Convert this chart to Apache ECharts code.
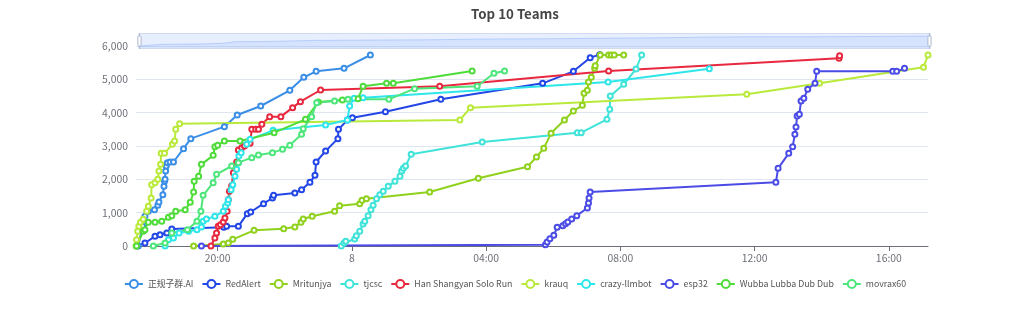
<!DOCTYPE html>
<html>
<head>
<meta charset="utf-8">
<script src="https://cdn.jsdelivr.net/npm/echarts@6/dist/echarts.min.js"></script>
<style>html,body{margin:0;padding:0;background:#fff}#c{width:1030px;height:318px}</style>
</head>
<body>
<div id="c"></div>
<script>
const DATE_PREFIX = '2023-10-';
const teamNames = ['正规子群.AI','RedAlert','Mritunjya','tjcsc','Han Shangyan Solo Run','krauq','crazy-llmbot','esp32','Wubba Lubba Dub Dub','movrax60'];
const teamColors = ['#3a8ee6','#2346e6','#8fd11c','#3fe3d8','#e8283f','#b9ea3b','#2ee6ea','#4b4be6','#4fdc3a','#4de67b'];

const zhengguiData = [['07 17:38',0],['07 17:46',590],['07 17:50',890],['07 17:56',1040],['07 18:07',1090],['07 18:13',1220],['07 18:15',1320],['07 18:22',1540],['07 18:24',1790],['07 18:25',1940],['07 18:26',2000],['07 18:27',2250],['07 18:28',2400],['07 18:30',2500],['07 18:35',2520],['07 18:41',2520],['07 18:59',2920],['07 19:12',3220],['07 20:12',3580],['07 20:35',3930],['07 21:17',4200],['07 22:09',4670],['07 22:34',5060],['07 22:56',5240],['07 23:46',5330],['08 00:33',5730]];
const redAlertData = [['07 17:35',0],['07 17:50',90],['07 18:08',290],['07 18:17',340],['07 18:29',390],['07 18:38',510],['07 20:11',560],['07 20:16',590],['07 20:37',590],['07 20:53',970],['07 20:59',1020],['07 21:22',1270],['07 21:38',1440],['07 21:40',1520],['07 22:18',1590],['07 22:30',1690],['07 22:45',1910],['07 22:54',2120],['07 22:56',2520],['07 23:13',2850],['07 23:35',3220],['07 23:36',3500],['07 23:52',3780],['08 00:01',3850],['08 01:00',4030],['08 02:39',4400],['08 05:41',4880],['08 06:36',5240],['08 07:06',5650],['08 07:23',5740]];
const mritunjyaData = [['07 19:17',0],['07 20:10',60],['07 20:19',90],['07 20:27',200],['07 21:05',470],['07 21:58',520],['07 22:18',570],['07 22:29',710],['07 22:33',810],['07 22:49',890],['07 23:29',1040],['07 23:38',1210],['08 00:14',1270],['08 00:18',1370],['08 00:26',1420],['08 02:19',1620],['08 03:46',2030],['08 05:14',2380],['08 05:30',2670],['08 05:43',2930],['08 05:56',3380],['08 06:20',3780],['08 06:36',4050],['08 06:52',4220],['08 06:55',4580],['08 07:01',4670],['08 07:03',4920],['08 07:08',5060],['08 07:14',5330],['08 07:15',5410],['08 07:24',5730],['08 07:39',5730],['08 07:44',5730],['08 07:49',5730],['08 08:06',5730]];
const tjcscData = [['07 23:41',0],['07 23:46',90],['07 23:49',140],['08 00:05',210],['08 00:08',310],['08 00:14',440],['08 00:20',660],['08 00:23',740],['08 00:29',910],['08 00:34',1090],['08 00:38',1220],['08 00:44',1420],['08 00:50',1540],['08 00:56',1640],['08 01:05',1790],['08 01:17',1940],['08 01:26',2090],['08 01:29',2250],['08 01:32',2330],['08 01:36',2400],['08 01:46',2750],['08 03:53',3120],['08 06:43',3400],['08 06:50',3400],['08 07:36',3800],['08 07:41',4100],['08 07:42',4500],['08 08:06',4850],['08 08:28',5310],['08 08:38',5730]];
const hanData = [['07 19:48',0],['07 19:55',240],['07 19:58',390],['07 20:01',590],['07 20:05',640],['07 20:10',720],['07 20:13',840],['07 20:17',1040],['07 20:19',1390],['07 20:21',1640],['07 20:25',1810],['07 20:28',2200],['07 20:34',2520],['07 20:37',2880],['07 20:43',2950],['07 20:48',3000],['07 20:58',3080],['07 21:01',3500],['07 21:08',3500],['07 21:13',3500],['07 21:19',3650],['07 21:33',3880],['07 21:53',3880],['07 22:14',4150],['07 22:28',4330],['07 23:04',4680],['08 02:37',4790],['08 07:39',5250],['08 14:31',5630],['08 14:32',5710]];
const krauqData = [['07 17:34',0],['07 17:35',190],['07 17:37',440],['07 17:39',590],['07 17:42',710],['07 17:47',800],['07 17:53',1040],['07 17:56',1190],['07 18:01',1440],['07 18:02',1840],['07 18:08',1900],['07 18:13',2000],['07 18:15',2250],['07 18:18',2450],['07 18:19',2780],['07 18:25',2780],['07 18:39',3050],['07 18:43',3150],['07 18:45',3500],['07 18:52',3670],['08 03:13',3780],['08 03:32',4150],['08 11:46',4550],['08 13:56',4880],['08 17:02',5360],['08 17:10',5730]];
const crazyData = [['07 18:26',0],['07 18:32',190],['07 18:41',240],['07 18:51',390],['07 19:08',440],['07 19:23',490],['07 19:31',570],['07 19:34',740],['07 19:40',810],['07 19:55',890],['07 20:10',1040],['07 20:14',1190],['07 20:18',1290],['07 20:19',1390],['07 20:24',1690],['07 20:27',1840],['07 20:31',2090],['07 20:34',2300],['07 20:37',2500],['07 20:38',2700],['07 20:42',2800],['07 20:52',3050],['07 20:58',3200],['07 21:39',3470],['07 23:13',3630],['07 23:52',3780],['07 23:56',4200],['08 00:04',4430],['08 00:20',4450],['08 07:38',4920],['08 10:39',5320]];
const esp32Data = [['07 19:31',0],['08 05:46',40],['08 05:49',120],['08 05:54',220],['08 06:01',320],['08 06:07',560],['08 06:17',610],['08 06:22',670],['08 06:26',720],['08 06:33',810],['08 06:42',910],['08 07:01',1140],['08 07:03',1290],['08 07:04',1440],['08 07:06',1620],['08 12:38',1910],['08 12:42',2330],['08 13:01',2780],['08 13:08',2980],['08 13:12',3350],['08 13:14',3570],['08 13:16',3900],['08 13:20',3950],['08 13:23',4350],['08 13:28',4430],['08 13:35',4700],['08 13:48',4880],['08 13:51',5240],['08 16:07',5240],['08 16:14',5240],['08 16:28',5330]];
const wubbaData = [['07 17:35',0],['07 17:47',440],['07 17:50',490],['07 17:56',710],['07 18:08',710],['07 18:20',740],['07 18:32',860],['07 18:38',910],['07 18:45',1040],['07 19:02',1090],['07 19:11',1310],['07 19:17',1620],['07 19:18',1940],['07 19:26',2090],['07 19:31',2450],['07 19:52',2720],['07 19:55',2980],['07 20:00',3020],['07 20:12',3150],['07 20:40',3150],['07 21:41',3400],['07 22:37',3800],['07 23:00',4320],['07 23:43',4380],['08 00:11',4420],['08 00:20',4790],['08 01:02',4880],['08 01:14',4880],['08 03:35',5250]];
const movraxData = [['07 18:05',0],['07 18:26',90],['07 18:38',390],['07 19:06',490],['07 19:23',740],['07 19:30',1040],['07 19:34',1520],['07 19:52',1900],['07 19:58',2150],['07 20:25',2400],['07 20:37',2500],['07 21:01',2650],['07 21:13',2730],['07 21:38',2800],['07 21:56',2900],['07 22:09',3020],['07 22:30',3350],['07 22:33',3520],['07 22:48',3880],['07 22:57',4300],['07 23:29',4350],['07 23:53',4400],['08 01:06',4400],['08 01:52',4720],['08 03:44',4790],['08 04:14',5180],['08 04:33',5250]];

const teamData = [zhengguiData, redAlertData, mritunjyaData, tjcscData, hanData, krauqData, crazyData, esp32Data, wubbaData, movraxData];
const yTicks = { min: 0, max: 6000, interval: 1000 };

const FONT = "'Noto Sans CJK SC', 'Noto Sans', sans-serif";
const chart = echarts.init(document.getElementById('c'), null, { renderer: 'canvas' });
const series = teamNames.map((name, i) => ({
  name: name,
  type: 'line',
  symbol: 'emptyCircle',
  symbolSize: 5,
  showSymbol: true,
  color: teamColors[i],
  lineStyle: { width: 2 },
  itemStyle: { borderWidth: 1.5 },
  data: teamData[i].map(p => [DATE_PREFIX + p[0], p[1]])
}));

chart.setOption({
  animation: false,
  textStyle: { fontFamily: FONT },
  title: {
    text: 'Top 10 Teams',
    left: 'center',
    top: 2,
    textStyle: { fontSize: 13.3, fontWeight: 'bold', color: '#464646', fontFamily: FONT }
  },
  legend: {
    data: teamNames,
    left: 'center',
    top: 274,
    itemGap: 8,
    itemWidth: 18,
    itemHeight: 10,
    textStyle: { fontSize: 8.8, color: '#555', fontFamily: FONT }
  },
  grid: { left: 136, right: 102, top: 46, bottom: 72 },
  dataZoom: [{
    type: 'slider',
    xAxisIndex: 0,
    start: 0,
    end: 100,
    top: 33,
    height: 16,
    left: 136,
    right: 102,
    showDetail: false,
    backgroundColor: 'rgba(47,69,84,0)',
    borderColor: '#d2dbee',
    fillerColor: 'rgba(135,175,274,0.2)',
    dataBackground: {
      lineStyle: { color: '#d2dbee', width: 0.5 },
      areaStyle: { color: '#d2dbee', opacity: 0.2 }
    },
    selectedDataBackground: {
      lineStyle: { color: '#8fb0f7', width: 0.5 },
      areaStyle: { color: '#8fb0f7', opacity: 0.2 }
    },
    handleIcon: 'path://M-9.35,34.56V42m0-40V9.5m-2,0h4a2,2,0,0,1,2,2v21a2,2,0,0,1-2,2h-4a2,2,0,0,1-2-2v-21A2,2,0,0,1-11.35,9.5Z',
    handleSize: '100%',
    handleStyle: { color: '#fff', borderColor: '#ACB8D1' },
    moveHandleSize: 6,
    moveHandleStyle: { color: '#D2DBEE', opacity: 0.7 },
    brushSelect: false
  }],
  xAxis: {
    type: 'time',
    splitLine: { show: false },
    axisLine: { lineStyle: { color: '#6E7079' } },
    axisLabel: {
      color: '#6E7079',
      fontSize: 10.4,
      margin: 7,
      fontFamily: FONT,
      formatter: { day: '{d}', hour: '{HH}:{mm}' }
    }
  },
  yAxis: {
    type: 'value',
    min: yTicks.min,
    max: yTicks.max,
    interval: yTicks.interval,
    axisLabel: { color: '#6E7079', fontSize: 10.4, fontFamily: FONT },
    splitLine: { lineStyle: { color: '#E0E6F1' } }
  },
  series: series
});
</script>
</body>
</html>
